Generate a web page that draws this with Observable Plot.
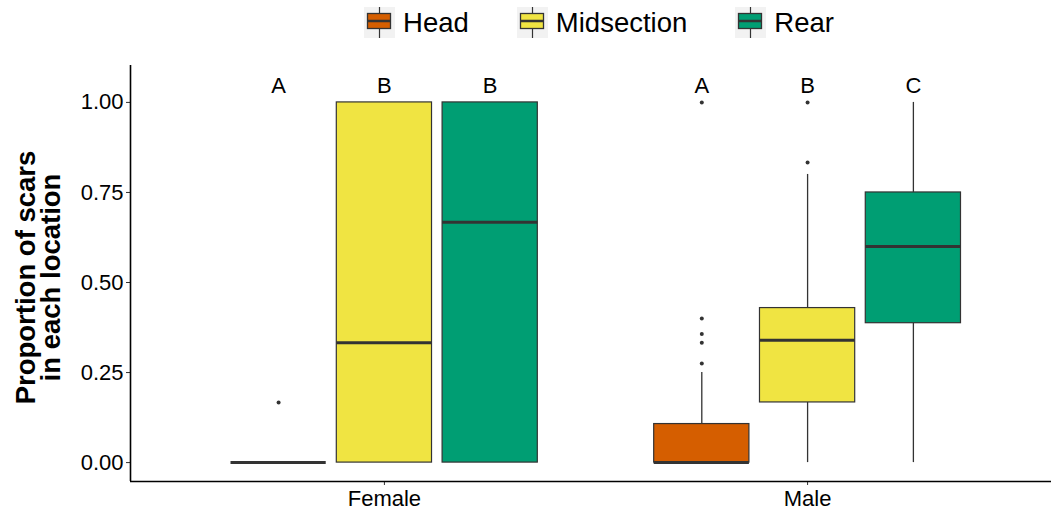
<!DOCTYPE html>
<html>
<head>
<meta charset="utf-8">
<script src="https://cdn.jsdelivr.net/npm/d3@7"></script>
<script src="https://cdn.jsdelivr.net/npm/@observablehq/plot@0.6"></script>
<style>
  html, body { margin: 0; padding: 0; background: #fff; }
  body { width: 1051px; height: 512px; overflow: hidden; font-family: "Liberation Sans", Arial, sans-serif; }
  #legend { height: 45px; display: flex; align-items: center; justify-content: center; padding-left: 147px; box-sizing: border-box; width: 1051px; }
  .item { display: flex; align-items: center; margin: 0 24px; }
  .item svg { display: block; margin-right: 8px; }
  .item span { font-size: 27.5px; color: #000; }
</style>
</head>
<body>
<div id="legend"></div>
<div id="chart"></div>
<script>
// ---- data ----
const sexes = ["Female", "Male"];
const locations = ["Head", "Midsection", "Rear"];
const colors = ["#D55E00", "#F0E442", "#009E73"];

// per box, ordered Female: Head, Midsection, Rear; Male: Head, Midsection, Rear
const boxSex      = ["Female", "Female", "Female", "Male", "Male", "Male"];
const boxLocation = ["Head", "Midsection", "Rear", "Head", "Midsection", "Rear"];
const lowerWhisker = [0, 0, 0, 0, 0, 0];
const q1Values     = [0, 0, 0, 0, 0.167, 0.387];
const medianValues = [0, 0.333, 0.667, 0, 0.34, 0.6];
const q3Values     = [0, 1, 1, 0.107, 0.429, 0.75];
const upperWhisker = [0, 1, 1, 0.25, 0.8, 1];
const letterLabels = ["A", "B", "B", "A", "B", "C"];

const outlierSex      = ["Female", "Male", "Male", "Male", "Male", "Male", "Male", "Male"];
const outlierLocation = ["Head", "Head", "Head", "Head", "Head", "Head", "Midsection", "Midsection"];
const outlierValues   = [0.167, 0.275, 0.333, 0.357, 0.4, 1.0, 0.833, 1.0];

const yTicks = [0, 0.25, 0.5, 0.75, 1];

// ---- derived tables (dodged positions like ggplot) ----
const dodge = 0.25, halfBox = 0.1125;
const pos = (s, l) => sexes.indexOf(s) + 1 + (locations.indexOf(l) - 1) * dodge;
const boxes = boxSex.map((s, i) => ({
  sex: s, location: boxLocation[i], x: pos(s, boxLocation[i]),
  lo: lowerWhisker[i], q1: q1Values[i], med: medianValues[i], q3: q3Values[i], hi: upperWhisker[i],
  letter: letterLabels[i]
}));
const outliers = outlierSex.map((s, i) => ({ x: pos(s, outlierLocation[i]), y: outlierValues[i] }));

// ---- legend ----
const legend = document.getElementById("legend");
locations.forEach((loc, i) => {
  const item = document.createElement("div");
  item.className = "item";
  item.innerHTML = `<svg width="31" height="31">
    <rect x="0" y="0" width="31" height="31" fill="#F2F2F2"/>
    <line x1="15.5" x2="15.5" y1="0" y2="31" stroke="#333" stroke-width="1.2"/>
    <rect x="3.5" y="6.5" width="23" height="15" fill="${colors[i]}" stroke="#333" stroke-width="1.3"/>
    <line x1="3.5" x2="26.5" y1="14" y2="14" stroke="#333" stroke-width="2.5"/>
  </svg><span>${loc}</span>`;
  legend.appendChild(item);
});

// ---- chart ----
const chart = Plot.plot({
  width: 1051,
  height: 467,
  marginLeft: 130,
  marginRight: 0,
  marginTop: 20,
  marginBottom: 31,
  style: { fontFamily: "'Liberation Sans', Arial, sans-serif", background: "#fff", overflow: "visible" },
  x: { domain: [0.4, 2.6], range: [130, 1061] },
  y: { domain: [-0.0525, 1.1025] },
  color: { domain: locations, range: colors },
  marks: [
    // whiskers
    Plot.ruleX(boxes, { x: "x", y1: "lo", y2: "q1", stroke: "#333", strokeWidth: 1.3 }),
    Plot.ruleX(boxes, { x: "x", y1: "q3", y2: "hi", stroke: "#333", strokeWidth: 1.3 }),
    // boxes
    Plot.rect(boxes, { x1: d => d.x - halfBox, x2: d => d.x + halfBox, y1: "q1", y2: "q3", fill: "location", stroke: "#333", strokeWidth: 1.2 }),
    // medians
    Plot.ruleY(boxes, { x1: d => d.x - halfBox, x2: d => d.x + halfBox, y: "med", stroke: "#333", strokeWidth: 3, strokeLinecap: "butt" }),
    // outliers
    Plot.dot(outliers, { x: "x", y: "y", r: 2, fill: "#333", stroke: null }),
    // significance letters
    Plot.text(boxes, { x: "x", y: () => 1.047, text: "letter", fontSize: 22, fill: "#000" }),
    // axes
    Plot.axisY({ ticks: yTicks, tickFormat: d3.format(".2f"), tickSize: 4, tickPadding: 3, fontSize: 22, label: null, stroke: "#333", color: "#000" }),
    Plot.axisX({ ticks: [1, 2], tickFormat: d => sexes[d - 1], tickSize: 4, tickPadding: 5, fontSize: 22, label: null, stroke: "#333", color: "#000" }),
    Plot.ruleX([0.4], { stroke: "#000", strokeWidth: 1.6 }),
    Plot.ruleY([-0.0525], { stroke: "#000", strokeWidth: 1.6 }),
    // y axis title
    Plot.text(["Proportion of scars\nin each location"], {
      frameAnchor: "left", textAnchor: "middle", rotate: -90, dx: -91, dy: 4, fontSize: 27.5, fontWeight: "bold", fill: "#000", lineHeight: 0.93
    })
  ]
});
document.getElementById("chart").appendChild(chart);
</script>
</body>
</html>
